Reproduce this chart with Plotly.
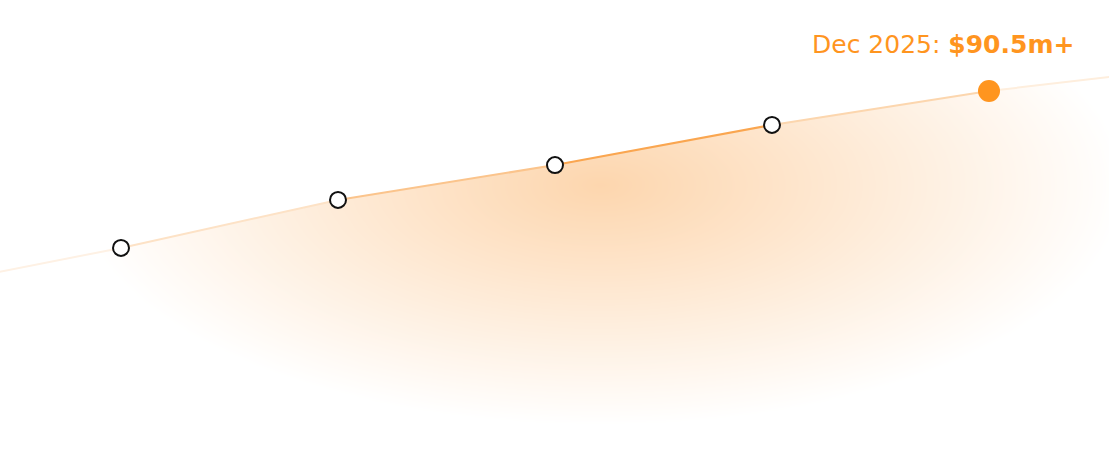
import numpy as np
import plotly.graph_objects as go

# ---- data ----
years = [2021, 2022, 2023, 2024, 2025]                 # December of each year
values_m = [38.2, 54.2, 65.8, 79.2, 90.5]              # $m
lead_year, lead_value = 2020.44, 30.2                  # line continues off-chart
trail_year, trail_value = 2025.56, 95.2
label_prefix = "Dec 2025: "
label_value = "$90.5m+"

ORANGE = "#FF951F"
W, H = 1109, 449

# axis ranges (data units)
x_range = [2021 - 121 / 217, 2021 + (W - 121) / 217]
y_range = [(362.5 - H) / 3, 362.5 / 3]

line_x = [lead_year] + years + [trail_year]
line_y = [lead_value] + values_m + [trail_value]

fig = go.Figure()

# ---- soft radial glow under the line (decoration) ----
gx = np.linspace(x_range[0], x_range[1], 240)
gy = np.linspace(y_range[0], y_range[1], 110)
GX, GY = np.meshgrid(gx, gy)
cx, cy = 2021 + (600 - 121) / 217, (362.5 - 185) / 3
rx, ry = 525 / 217, 240 / 3
r = np.sqrt(((GX - cx) / rx) ** 2 + ((GY - cy) / ry) ** 2)
Z = np.clip(1 - r, 0, 1)
fig.add_trace(go.Heatmap(
    x=gx, y=gy, z=Z, zmin=0, zmax=1, zsmooth="best", showscale=False,
    colorscale=[[0, "#FFFFFF"], [1, "#FDD6AE"]],
    hoverinfo="skip"))

# white mask above the line
fig.add_trace(go.Scatter(x=line_x, y=[y_range[1] + 5] * len(line_x), mode="lines",
                         line=dict(width=0), hoverinfo="skip", showlegend=False))
fig.add_trace(go.Scatter(x=line_x, y=line_y, mode="lines", fill="tonexty",
                         fillcolor="#FFFFFF", line=dict(width=0),
                         hoverinfo="skip", showlegend=False))

# ---- line with fading colour per segment ----
seg_colors = ["#FEF1E4", "#FDE2C6", "#FBC48C", "#FAA650", "#FCD6AE", "#FEEEDD"]
for i, c in enumerate(seg_colors):
    fig.add_trace(go.Scatter(x=line_x[i:i + 2], y=line_y[i:i + 2], mode="lines",
                             line=dict(color=c, width=2), hoverinfo="skip",
                             showlegend=False))

# ---- markers ----
fig.add_trace(go.Scatter(x=years[:-1], y=values_m[:-1], mode="markers",
                         marker=dict(size=16, color="#FFFFFF",
                                     line=dict(color="#111111", width=2)),
                         showlegend=False))
fig.add_trace(go.Scatter(x=years[-1:], y=values_m[-1:], mode="markers",
                         marker=dict(size=22, color=ORANGE, line=dict(width=0)),
                         showlegend=False))

fig.add_annotation(x=years[-1], y=values_m[-1], xref="x", yref="y",
                   text=f"{label_prefix}<b>{label_value}</b>", showarrow=False,
                   xanchor="right", yanchor="middle", xshift=87, yshift=47,
                   font=dict(family="DejaVu Sans, sans-serif", size=25, color=ORANGE))

fig.update_xaxes(range=x_range, visible=False, fixedrange=True)
fig.update_yaxes(range=y_range, visible=False, fixedrange=True)
fig.update_layout(width=W, height=H, margin=dict(l=0, r=0, t=0, b=0),
                  plot_bgcolor="#FFFFFF", paper_bgcolor="#FFFFFF",
                  showlegend=False)

fig.write_html("out.html", config={"displayModeBar": False},
               post_script="document.body.style.margin='0';")
